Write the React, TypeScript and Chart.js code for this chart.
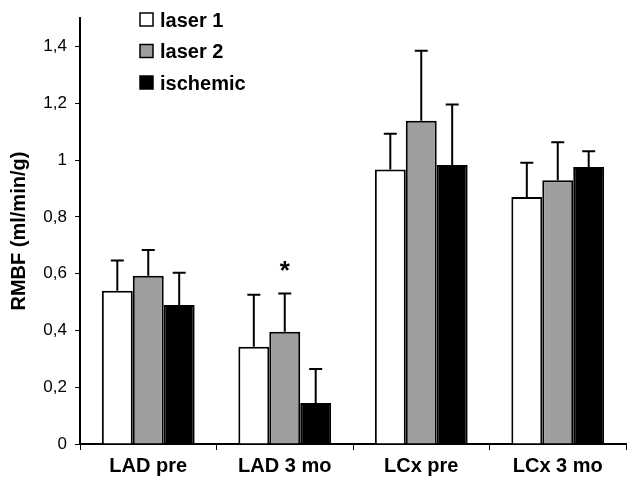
import React, { useEffect, useRef } from "react";
import { Chart, registerables } from "chart.js";

Chart.register(...registerables);

const categories = ["LAD pre", "LAD 3 mo", "LCx pre", "LCx 3 mo"];
const seriesLabels = ["laser 1", "laser 2", "ischemic"];
const laser1 = [0.54, 0.343, 0.967, 0.87];
const laser1Sd = [0.106, 0.183, 0.126, 0.121];
const laser2 = [0.593, 0.395, 1.139, 0.929];
const laser2Sd = [0.09, 0.135, 0.246, 0.134];
const ischemic = [0.49, 0.144, 0.983, 0.976];
const ischemicSd = [0.113, 0.12, 0.213, 0.055];
const yTicks = [0, 0.2, 0.4, 0.6, 0.8, 1, 1.2, 1.4];
const significance = [{ category: 1, series: 1, mark: "*" }];

const FONT = "'Liberation Sans', Arial, sans-serif";
const GRAY = "#9e9e9e";

const errorBarPlugin = {
  id: "errorBars",
  afterDatasetsDraw(chart: any) {
    const ctx = chart.ctx;
    const y = chart.scales.y;
    ctx.save();
    ctx.strokeStyle = "#000";
    ctx.lineWidth = 2;
    chart.data.datasets.forEach((ds: any, di: number) => {
      const meta = chart.getDatasetMeta(di);
      meta.data.forEach((el: any, i: number) => {
        const v = ds.data[i];
        const sd = ds.sd[i];
        const yb = y.getPixelForValue(v);
        const yt = y.getPixelForValue(v + sd);
        ctx.beginPath();
        ctx.moveTo(el.x, yb);
        ctx.lineTo(el.x, yt);
        ctx.moveTo(el.x - 6.5, yt);
        ctx.lineTo(el.x + 6.5, yt);
        ctx.stroke();
      });
    });
    ctx.fillStyle = "#000";
    ctx.font = `bold 26px ${FONT}`;
    ctx.textAlign = "center";
    ctx.textBaseline = "alphabetic";
    significance.forEach((s) => {
      const ds: any = chart.data.datasets[s.series];
      const el: any = chart.getDatasetMeta(s.series).data[s.category];
      const yt = y.getPixelForValue(ds.data[s.category] + ds.sd[s.category]);
      ctx.fillText(s.mark, el.x, yt - 15);
    });
    ctx.restore();
  },
};

const legendPlugin = {
  id: "innerLegend",
  afterDraw(chart: any) {
    const ctx = chart.ctx;
    ctx.save();
    const x0 = 140;
    const top0 = 13;
    const step = 31.5;
    chart.data.datasets.forEach((ds: any, i: number) => {
      const top = top0 + i * step;
      ctx.fillStyle = ds.backgroundColor;
      ctx.fillRect(x0, top, 13, 13);
      ctx.strokeStyle = "#000";
      ctx.lineWidth = 1.5;
      ctx.strokeRect(x0, top, 13, 13);
      ctx.fillStyle = "#000";
      ctx.font = `bold 20px ${FONT}`;
      ctx.textAlign = "left";
      ctx.textBaseline = "alphabetic";
      ctx.fillText(ds.label, 160, top + 13.5);
    });
    ctx.restore();
  },
};

export default function App() {
  const ref = useRef<HTMLCanvasElement>(null);
  useEffect(() => {
    if (!ref.current) return;
    const makeDs = (label: string, data: number[], sd: number[], color: string) => ({
      label,
      data,
      sd,
      backgroundColor: color,
      borderColor: "#000",
      borderWidth: 2,
      barPercentage: 1,
      categoryPercentage: 0.68,
    });
    const chart = new Chart(ref.current, {
      type: "bar",
      data: {
        labels: categories,
        datasets: [
          makeDs(seriesLabels[0], laser1, laser1Sd, "#ffffff"),
          makeDs(seriesLabels[1], laser2, laser2Sd, GRAY),
          makeDs(seriesLabels[2], ischemic, ischemicSd, "#000000"),
        ] as any,
      },
      options: {
        animation: false,
        responsive: false,
        maintainAspectRatio: false,
        layout: { padding: { top: 7, right: 2, left: 0, bottom: 0 } },
        plugins: { legend: { display: false }, tooltip: { enabled: false } },
        scales: {
          x: {
            afterFit: (s: any) => {
              s.height = 44;
            },
            grid: {
              offset: true,
              drawOnChartArea: false,
              drawTicks: true,
              tickLength: 6,
              color: "#000",
              lineWidth: 1,
            },
            border: { color: "#000", width: 2 },
            ticks: {
              color: "#000",
              padding: 4,
              font: { family: FONT, size: 20, weight: "bold" },
            },
          },
          y: {
            min: 0,
            max: 1.5,
            afterFit: (s: any) => {
              s.width = 80;
            },
            afterBuildTicks: (s: any) => {
              s.ticks = yTicks.map((v) => ({ value: v }));
            },
            grid: {
              drawOnChartArea: false,
              drawTicks: true,
              tickLength: 5,
              color: "#000",
              lineWidth: 1,
            },
            border: { color: "#000", width: 2 },
            ticks: {
              color: "#000",
              padding: 8,
              font: { family: FONT, size: 17 },
              callback: (v: any) => {
                const n = Number(Number(v).toFixed(1));
                return String(n).replace(".", ",");
              },
            },
            title: {
              display: true,
              text: "RMBF (ml/min/g)",
              color: "#000",
              padding: { top: 7, bottom: 0 },
              font: { family: FONT, size: 20, weight: "bold" },
            },
          },
        },
      },
      plugins: [errorBarPlugin, legendPlugin],
    });
    return () => chart.destroy();
  }, []);
  return (
    <div style={{ position: "absolute", left: 0, top: 0, width: 628, height: 488, background: "#fff" }}>
      <canvas ref={ref} width={628} height={488} style={{ display: "block" }} />
    </div>
  );
}
